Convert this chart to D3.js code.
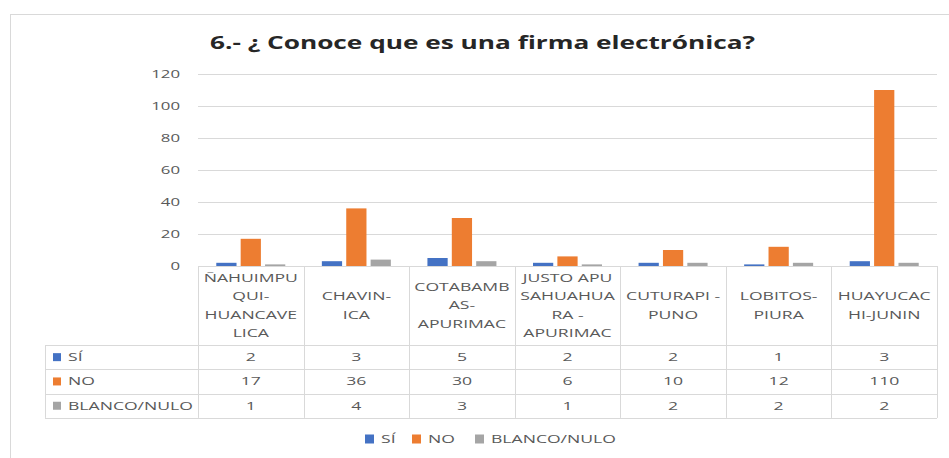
<!DOCTYPE html>
<html>
<head>
<meta charset="utf-8">
<script src="https://cdn.jsdelivr.net/npm/d3@7"></script>
<style>
  body { margin: 0; background: #fff; }
  svg text { font-family: "Open Sans", "Liberation Sans", sans-serif; }
</style>
</head>
<body>
<svg id="chart" width="949" height="458"></svg>
<script>
// chart data
const categories = [
  ["ÑAHUIMPU", "QUI-", "HUANCAVE", "LICA"],
  ["CHAVIN-", "ICA"],
  ["COTABAMB", "AS-", "APURIMAC"],
  ["JUSTO APU", "SAHUAHUA", "RA -", "APURIMAC"],
  ["CUTURAPI -", "PUNO"],
  ["LOBITOS-", "PIURA"],
  ["HUAYUCAC", "HI-JUNIN"]
];
const seriesNames = ["SÍ", "NO", "BLANCO/NULO"];
const siValues = [2, 3, 5, 2, 2, 1, 3];
const noValues = [17, 36, 30, 6, 10, 12, 110];
const blancoValues = [1, 4, 3, 1, 2, 2, 2];
const yTicks = [0, 20, 40, 60, 80, 100, 120];
const colors = ["#4472C4", "#ED7D31", "#A5A5A5"];

const series = [siValues, noValues, blancoValues];
const svg = d3.select("#chart");
const gridColor = "#D9D9D9";
const textColor = "#595959";
const fs = 11;      // body font size
const sx = 1.6;     // the original text is stretched horizontally

// small helper for stretched text
function stext(parent, x, y, str, anchor) {
  return parent.append("text")
    .attr("transform", `translate(${x},${y}) scale(${sx},1)`)
    .attr("text-anchor", anchor || "start")
    .attr("font-size", fs).attr("fill", textColor)
    .text(str);
}

// outer frame (cut off at right and bottom)
svg.append("rect")
  .attr("x", 10.5).attr("y", 14.5)
  .attr("width", 1000).attr("height", 1000)
  .attr("fill", "none").attr("stroke", gridColor);

// title
svg.append("text")
  .attr("x", 210).attr("y", 49)
  .attr("font-size", 18.5).attr("font-weight", "bold")
  .attr("fill", "#262626")
  .attr("textLength", 545).attr("lengthAdjust", "spacingAndGlyphs")
  .text("6.- ¿ Conoce que es una firma electrónica?");

const x = d3.scaleBand().domain(d3.range(categories.length)).range([198, 937]);
const xs = d3.scaleBand().domain(d3.range(3)).range([-34.5, 34.5]).paddingInner(0.17);
const y = d3.scaleLinear().domain([0, 120]).range([266, 74]);

// gridlines
svg.append("g").selectAll("line")
  .data(yTicks.filter(t => t > 0))
  .join("line")
  .attr("x1", 198).attr("x2", 937)
  .attr("y1", d => Math.round(y(d)) + 0.5).attr("y2", d => Math.round(y(d)) + 0.5)
  .attr("stroke", gridColor);

// y axis labels
const yAxis = d3.axisLeft(y).tickValues(yTicks).tickSize(0).tickPadding(0);
const yg = svg.append("g").attr("transform", "translate(180,0)").call(yAxis);
yg.select(".domain").remove();
yg.selectAll("text")
  .attr("font-size", 10.5).attr("fill", textColor)
  .attr("font-family", "'Open Sans', sans-serif")
  .attr("transform", `scale(${sx},1)`);

// bars
series.forEach((vals, si) => {
  svg.append("g").selectAll("rect")
    .data(vals)
    .join("rect")
    .attr("x", (d, i) => x(i) + x.bandwidth() / 2 + xs(si))
    .attr("width", xs.bandwidth())
    .attr("y", d => y(d))
    .attr("height", d => y(0) - y(d))
    .attr("fill", colors[si]);
});

// data table
const rowTop = 345, rowH = 24.3;
const tableBottom = rowTop + rowH * 3;
const tbl = svg.append("g").attr("stroke", gridColor).attr("fill", "none");
tbl.append("line").attr("x1", 198).attr("x2", 937).attr("y1", 266.5).attr("y2", 266.5);
[0, 1, 2, 3].forEach(r => {
  const yy = Math.round(rowTop + r * rowH) + 0.5;
  tbl.append("line").attr("x1", 45).attr("x2", 937).attr("y1", yy).attr("y2", yy);
});
d3.range(categories.length + 1).forEach(i => {
  const xx = Math.round(i < categories.length ? x(i) : 937) + 0.5;
  tbl.append("line").attr("x1", xx).attr("x2", xx).attr("y1", 266).attr("y2", tableBottom);
});
tbl.append("line").attr("x1", 45.5).attr("x2", 45.5).attr("y1", rowTop).attr("y2", tableBottom);

// category labels
const lineH = 18.3, headerMid = (266 + rowTop) / 2;
categories.forEach((lines, i) => {
  const t = svg.append("text")
    .attr("transform", `translate(${x(i) + x.bandwidth() / 2},0) scale(${sx},1)`)
    .attr("text-anchor", "middle")
    .attr("font-size", fs).attr("fill", textColor);
  lines.forEach((ln, k) => {
    t.append("tspan")
      .attr("x", 0)
      .attr("y", headerMid + (k - (lines.length - 1) / 2) * lineH + 4)
      .text(ln);
  });
});

// table row labels and values
series.forEach((vals, si) => {
  const cy = rowTop + si * rowH + rowH / 2;
  svg.append("rect").attr("x", 53).attr("y", cy - 4).attr("width", 8).attr("height", 8).attr("fill", colors[si]);
  stext(svg, 68, cy + 4, seriesNames[si]);
  vals.forEach((d, i) => stext(svg, x(i) + x.bandwidth() / 2, cy + 4, d, "middle"));
});

// legend
const legendX = [365, 412, 475];
seriesNames.forEach((name, si) => {
  svg.append("rect").attr("x", legendX[si]).attr("y", 434.5).attr("width", 9).attr("height", 9).attr("fill", colors[si]);
  stext(svg, legendX[si] + 16, 443, name);
});
</script>
</body>
</html>
